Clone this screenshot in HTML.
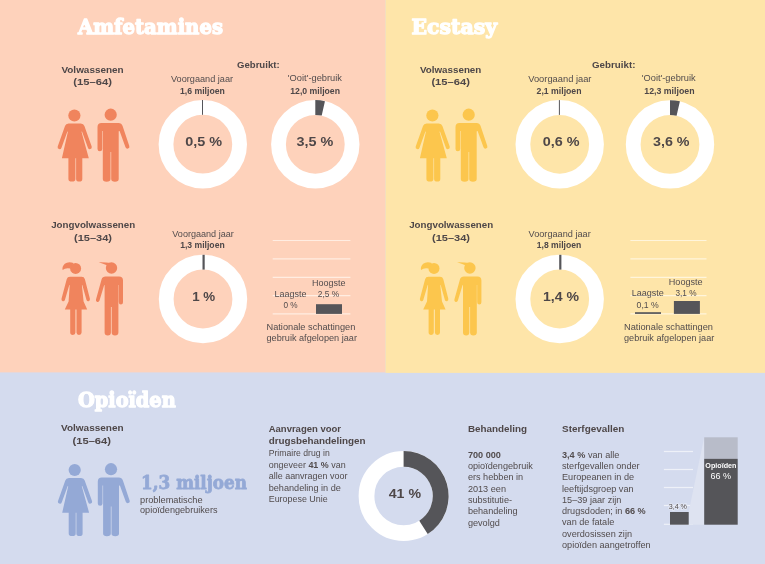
<!DOCTYPE html>
<html lang="nl"><head><meta charset="utf-8"><title>Amfetamines, Ecstasy, Opioïden</title>
<style>
html,body{margin:0;padding:0;background:#D4DBEE;}
svg{display:block}
text{font-family:"Liberation Sans",sans-serif;fill:#524c4d;}
.r{font-size:9.15px}
.b{font-size:9.5px;font-weight:bold;fill:#4e4748}
.b.s{font-size:9.2px}
.bb{font-weight:bold}
.big{font-size:13.2px;font-weight:bold;fill:#4e4748}
.title{font-family:"DejaVu Serif",serif;font-weight:bold;font-size:20.6px;fill:#fff;stroke:#fff;stroke-width:1.3px;stroke-linejoin:round}
.num{font-family:"DejaVu Serif",serif;font-weight:bold;font-size:18px;fill:#94A9D6;stroke:#94A9D6;stroke-width:.8px;stroke-linejoin:round}
.grid{stroke:#FFEDE2;stroke-width:1.2}
.gridy{stroke:#FFF5DC;stroke-width:1.2}
.grid2{stroke:#EEF1F8;stroke-width:1.2}
.tiny{font-size:7px}
.tinyw{font-size:8px;fill:#fff;font-weight:bold}
.tinyw2{font-size:8.2px;fill:#fff}
</style></head><body>
<svg width="765" height="564" viewBox="0 0 765 564">
<defs>
<g id="woman">
  <circle cx="74.4" cy="115.5" r="6.1"/>
  <path d="M68.6 123.5 H80.8 Q83.6 123.5 84.4 126 L91.7 146.6 Q92.2 148.6 90.4 149.1 Q88.6 149.6 87.9 147.7 L82 131.5 L81.5 131.7 L88.8 158.2 H82.3 V179 Q82.3 181.6 79.3 181.6 Q76.1 181.6 76.1 179 V158.2 H75.4 V179 Q75.4 181.6 71.9 181.6 Q68.4 181.6 68.4 179 V158.2 H61.9 L67.9 131.7 L67.4 131.5 L61.5 147.7 Q60.8 149.6 59 149.1 Q57.2 148.6 57.7 146.6 L65 126 Q65.8 123.5 68.6 123.5 Z"/>
</g>
<g id="man">
  <circle cx="110.7" cy="114.7" r="6.1"/>
  <path d="M101.5 123 H118.5 Q121.6 123 122.6 126 L129.3 146 Q129.9 148 128 148.6 Q126.2 149.1 125.5 147.3 L119.6 131 L118.7 131.2 V179 Q118.7 181.8 115 181.8 Q111.2 181.8 111.2 179 V152 H110.5 V179 Q110.5 181.8 106.6 181.8 Q102.8 181.8 102.8 179 V131 H102.2 V149 Q102.2 151.2 99.85 151.2 Q97.5 151.2 97.5 149 V127 Q97.5 123 101.5 123 Z"/>
</g>
<g id="girl">
  <circle cx="75.6" cy="268.4" r="5.5"/>
  <path d="M73.5 262.9 Q68 261 64.8 263.8 Q61.8 266.5 62.6 270 Q65.5 267.6 70.4 268.6 Z"/>
  <path d="M70 276.8 H81.6 Q84.2 276.8 84.9 279.2 L89.9 298.8 Q90.3 300.7 88.7 301.2 Q87.1 301.6 86.5 299.9 L82.3 285 L81.9 285.2 L83.6 301.5 L87.2 309.5 H81.6 V332.6 Q81.6 334.9 79 334.9 Q76.5 334.9 76.5 332.6 V309.5 H75.4 V332.6 Q75.4 334.9 72.8 334.9 Q70.2 334.9 70.2 332.6 V309.5 H64.8 L68.6 301.5 L69.7 285.2 L69.3 285 L64.9 299.9 Q64.3 301.6 62.7 301.2 Q61.1 300.7 61.5 298.8 L66.7 279.2 Q67.4 276.8 70 276.8 Z"/>
</g>
<g id="boy">
  <circle cx="111.5" cy="268" r="5.7"/>
  <path d="M98.7 262.2 Q105 262 111 263 L107.5 265.4 Q103 263.4 98.7 262.2 Z"/>
  <path d="M105.5 276.5 H119 Q123 276.5 123 280.5 V302.3 Q123 304.5 120.9 304.5 Q118.8 304.5 118.8 302.3 V285 H118.4 V332.5 Q118.4 335.4 115 335.4 Q111.7 335.4 111.7 332.5 V307 H110.9 V332.5 Q110.9 335.4 107.8 335.4 Q104.6 335.4 104.6 332.5 V285.2 L104.2 285 L99.5 300.6 Q98.9 302.4 97.2 301.9 Q95.5 301.4 96 299.5 L101.6 279.3 Q102.5 276.5 105.5 276.5 Z"/>
</g>
</defs>

<rect x="0" y="0" width="765" height="564" fill="#D4DBEE"/>
<rect x="0" y="0" width="385.5" height="372.4" fill="#FED2BB"/>
<rect x="385.5" y="0" width="379.5" height="372.9" fill="#FEE5A9"/>
<text x="78" y="34" class="title" textLength="145" lengthAdjust="spacingAndGlyphs" >Amfetamines</text>
<text x="61.4" y="73.2" class="b" textLength="62.3" lengthAdjust="spacingAndGlyphs" >Volwassenen</text>
<text x="73.2" y="85" class="b" textLength="38.7" lengthAdjust="spacingAndGlyphs" >(15–64)</text>
<use href="#woman" fill="#F0845D"/><use href="#man" fill="#F0845D"/>
<text x="237" y="67.8" class="b" textLength="42.6" lengthAdjust="spacingAndGlyphs" >Gebruikt:</text>
<text x="171" y="81.8" class="r" textLength="62.1" lengthAdjust="spacingAndGlyphs" >Voorgaand jaar</text>
<text x="180" y="93.5" class="b s" textLength="44.8" lengthAdjust="spacingAndGlyphs" >1,6 miljoen</text>
<circle cx="202.8" cy="144.2" r="36.8" fill="none" stroke="#fff" stroke-width="14.800000000000004"/><line x1="202.5" y1="99.99999999999999" x2="202.5" y2="114.79999999999998" stroke="#555559" stroke-width="1"/>
<text x="185.2" y="146.1" class="big" textLength="36.9" lengthAdjust="spacingAndGlyphs" >0,5 %</text>
<text x="287.8" y="81.3" class="r" textLength="54.2" lengthAdjust="spacingAndGlyphs" >'Ooit'-gebruik</text>
<text x="290.3" y="93.5" class="b s" textLength="49.7" lengthAdjust="spacingAndGlyphs" >12,0 miljoen</text>
<circle cx="315.3" cy="144.3" r="36.8" fill="none" stroke="#fff" stroke-width="14.800000000000004"/><path d="M315.30 100.10 A44.2 44.2 0 0 1 324.94 101.16 L321.71 115.61 A29.4 29.4 0 0 0 315.30 114.90 Z" fill="#555559"/>
<text x="296.4" y="146.1" class="big" textLength="36.8" lengthAdjust="spacingAndGlyphs" >3,5 %</text>
<text x="51.2" y="228" class="b" textLength="84.0" lengthAdjust="spacingAndGlyphs" >Jongvolwassenen</text>
<text x="74" y="241" class="b" textLength="38" lengthAdjust="spacingAndGlyphs" >(15–34)</text>
<use href="#girl" fill="#F0845D"/><use href="#boy" fill="#F0845D"/>
<text x="172.3" y="236.8" class="r" textLength="61.5" lengthAdjust="spacingAndGlyphs" >Voorgaand jaar</text>
<text x="180.2" y="248" class="b s" textLength="44.5" lengthAdjust="spacingAndGlyphs" >1,3 miljoen</text>
<circle cx="203" cy="299" r="36.8" fill="none" stroke="#fff" stroke-width="14.800000000000004"/><line x1="203.6" y1="254.8" x2="203.6" y2="269.6" stroke="#555559" stroke-width="2.2"/>
<text x="192.2" y="301.4" class="big" textLength="23.0" lengthAdjust="spacingAndGlyphs" >1 %</text>
<line x1="272.7" y1="240.5" x2="350.4" y2="240.5" class="grid"/>
<line x1="272.7" y1="258.9" x2="350.4" y2="258.9" class="grid"/>
<line x1="272.7" y1="277.3" x2="350.4" y2="277.3" class="grid"/>
<line x1="272.7" y1="295.6" x2="350.4" y2="295.6" class="grid"/>
<line x1="272.7" y1="313.9" x2="350.4" y2="313.9" class="grid"/>
<rect x="316" y="304.2" width="26" height="9.7" fill="#555559"/>
<text x="312" y="286" class="r" textLength="33.5" lengthAdjust="spacingAndGlyphs" >Hoogste</text>
<text x="317.8" y="297" class="r" textLength="21.5" lengthAdjust="spacingAndGlyphs" >2,5 %</text>
<text x="274.5" y="297" class="r" textLength="32.0" lengthAdjust="spacingAndGlyphs" >Laagste</text>
<text x="283.4" y="307.5" class="r" textLength="14.2" lengthAdjust="spacingAndGlyphs" >0 %</text>
<text x="266.5" y="330" class="r" textLength="88.8" lengthAdjust="spacingAndGlyphs" >Nationale schattingen</text>
<text x="266.5" y="340.8" class="r" textLength="90.5" lengthAdjust="spacingAndGlyphs" >gebruik afgelopen jaar</text>
<text x="411.5" y="33.7" class="title" textLength="85.5" lengthAdjust="spacingAndGlyphs" >Ecstasy</text>
<text x="420" y="72.8" class="b" textLength="61.3" lengthAdjust="spacingAndGlyphs" >Volwassenen</text>
<text x="431.4" y="84.7" class="b" textLength="38.5" lengthAdjust="spacingAndGlyphs" >(15–64)</text>
<use href="#woman" x="358" fill="#FCC64D"/><use href="#man" x="358" fill="#FCC64D"/>
<text x="592" y="67.8" class="b" textLength="43.4" lengthAdjust="spacingAndGlyphs" >Gebruikt:</text>
<text x="528.2" y="82.2" class="r" textLength="63.3" lengthAdjust="spacingAndGlyphs" >Voorgaand jaar</text>
<text x="536.6" y="94" class="b s" textLength="44.9" lengthAdjust="spacingAndGlyphs" >2,1 miljoen</text>
<circle cx="559.7" cy="144.3" r="36.8" fill="none" stroke="#fff" stroke-width="14.800000000000004"/><line x1="559.4" y1="100.10000000000001" x2="559.4" y2="114.9" stroke="#555559" stroke-width="1"/>
<text x="542.7" y="146.1" class="big" textLength="36.8" lengthAdjust="spacingAndGlyphs" >0,6 %</text>
<text x="641.8" y="81.2" class="r" textLength="53.9" lengthAdjust="spacingAndGlyphs" >'Ooit'-gebruik</text>
<text x="644.3" y="93.5" class="b s" textLength="50.2" lengthAdjust="spacingAndGlyphs" >12,3 miljoen</text>
<circle cx="670" cy="144.4" r="36.8" fill="none" stroke="#fff" stroke-width="14.800000000000004"/><path d="M670.00 100.20 A44.2 44.2 0 0 1 679.91 101.33 L676.59 115.75 A29.4 29.4 0 0 0 670.00 115.00 Z" fill="#555559"/>
<text x="653" y="146.1" class="big" textLength="36.5" lengthAdjust="spacingAndGlyphs" >3,6 %</text>
<text x="409.2" y="228" class="b" textLength="84.0" lengthAdjust="spacingAndGlyphs" >Jongvolwassenen</text>
<text x="432" y="241" class="b" textLength="38" lengthAdjust="spacingAndGlyphs" >(15–34)</text>
<use href="#girl" x="358.4" fill="#FCC64D"/><use href="#boy" x="358.4" fill="#FCC64D"/>
<text x="528.6" y="236.8" class="r" textLength="62.1" lengthAdjust="spacingAndGlyphs" >Voorgaand jaar</text>
<text x="536.8" y="248" class="b s" textLength="44.4" lengthAdjust="spacingAndGlyphs" >1,8 miljoen</text>
<circle cx="559.7" cy="299" r="36.8" fill="none" stroke="#fff" stroke-width="14.800000000000004"/><line x1="560.3" y1="254.8" x2="560.3" y2="269.6" stroke="#555559" stroke-width="2.2"/>
<text x="543" y="301.4" class="big" textLength="36" lengthAdjust="spacingAndGlyphs" >1,4 %</text>
<line x1="630.4" y1="240.5" x2="706.5" y2="240.5" class="gridy"/>
<line x1="630.4" y1="258.9" x2="706.5" y2="258.9" class="gridy"/>
<line x1="630.4" y1="277.3" x2="706.5" y2="277.3" class="gridy"/>
<line x1="630.4" y1="295.6" x2="706.5" y2="295.6" class="gridy"/>
<line x1="630.4" y1="313.9" x2="706.5" y2="313.9" class="gridy"/>
<rect x="673.9" y="301" width="26" height="12.9" fill="#555559"/>
<rect x="635" y="312.2" width="26" height="1.7" fill="#555559"/>
<text x="668.8" y="285" class="r" textLength="33.9" lengthAdjust="spacingAndGlyphs" >Hoogste</text>
<text x="675.4" y="295.5" class="r" textLength="21.1" lengthAdjust="spacingAndGlyphs" >3,1 %</text>
<text x="631.7" y="296.4" class="r" textLength="32.2" lengthAdjust="spacingAndGlyphs" >Laagste</text>
<text x="636.6" y="307.5" class="r" textLength="22.2" lengthAdjust="spacingAndGlyphs" >0,1 %</text>
<text x="624" y="330" class="r" textLength="89" lengthAdjust="spacingAndGlyphs" >Nationale schattingen</text>
<text x="624" y="340.8" class="r" textLength="90.3" lengthAdjust="spacingAndGlyphs" >gebruik afgelopen jaar</text>
<text x="78" y="407.1" class="title" textLength="97.7" lengthAdjust="spacingAndGlyphs" >Opioïden</text>
<text x="61" y="430.6" class="b" textLength="62.6" lengthAdjust="spacingAndGlyphs" >Volwassenen</text>
<text x="72.5" y="443.8" class="b" textLength="38.5" lengthAdjust="spacingAndGlyphs" >(15–64)</text>
<use href="#woman" x="0.3" y="354.5" fill="#94A9D6"/><use href="#man" x="0.3" y="354.5" fill="#94A9D6"/>
<text x="141" y="488.8" class="num" textLength="106" lengthAdjust="spacingAndGlyphs" >1,3 miljoen</text>
<text x="140" y="502.7" class="r" textLength="62.6" lengthAdjust="spacingAndGlyphs" >problematische</text>
<text x="140" y="513.2" class="r" textLength="77.5" lengthAdjust="spacingAndGlyphs" >opioïdengebruikers</text>
<text x="268.7" y="432" class="b" textLength="72.3" lengthAdjust="spacingAndGlyphs" >Aanvragen voor</text>
<text x="268.7" y="444.3" class="b" textLength="96.9" lengthAdjust="spacingAndGlyphs" >drugsbehandelingen</text>
<text x="268.7" y="456" class="r" textLength="61.0" lengthAdjust="spacingAndGlyphs" >Primaire drug in</text>
<text x="268.7" y="467.6" class="r" textLength="76.9" lengthAdjust="spacingAndGlyphs" >ongeveer <tspan class="bb">41 %</tspan> van</text>
<text x="268.7" y="479.2" class="r" textLength="78.8" lengthAdjust="spacingAndGlyphs" >alle aanvragen voor</text>
<text x="268.7" y="490.6" class="r" textLength="72.2" lengthAdjust="spacingAndGlyphs" >behandeling in de</text>
<text x="268.7" y="502" class="r" textLength="59.0" lengthAdjust="spacingAndGlyphs" >Europese Unie</text>
<circle cx="403.6" cy="496" r="37.1" fill="none" stroke="#fff" stroke-width="15.8"/><path d="M403.60 451.00 A45 45 0 0 1 427.71 533.99 L419.25 520.65 A29.2 29.2 0 0 0 403.60 466.80 Z" fill="#555559"/>
<text x="388.7" y="498.4" class="big" textLength="32.3" lengthAdjust="spacingAndGlyphs" >41 %</text>
<text x="467.9" y="432" class="b" textLength="59.1" lengthAdjust="spacingAndGlyphs" >Behandeling</text>
<text x="467.9" y="457.6" class="r" ><tspan class="bb">700 000</tspan></text>
<text x="467.9" y="469.0" class="r" >opioïdengebruik</text>
<text x="467.9" y="480.3" class="r" >ers hebben in</text>
<text x="467.9" y="491.7" class="r" >2013 een</text>
<text x="467.9" y="503.0" class="r" >substitutie-</text>
<text x="467.9" y="514.4" class="r" >behandeling</text>
<text x="467.9" y="525.7" class="r" >gevolgd</text>
<text x="562" y="432" class="b" textLength="62.4" lengthAdjust="spacingAndGlyphs" >Sterfgevallen</text>
<text x="562" y="457.6" class="r" ><tspan class="bb">3,4 %</tspan> van alle</text>
<text x="562" y="468.9" class="r" >sterfgevallen onder</text>
<text x="562" y="480.2" class="r" >Europeanen in de</text>
<text x="562" y="491.5" class="r" >leeftijdsgroep van</text>
<text x="562" y="502.8" class="r" >15–39 jaar zijn</text>
<text x="562" y="514.1" class="r" >drugsdoden; in <tspan class="bb">66 %</tspan></text>
<text x="562" y="525.4" class="r" >van de fatale</text>
<text x="562" y="536.7" class="r" >overdosissen zijn</text>
<text x="562" y="548.0" class="r" >opioïden aangetroffen</text>
<line x1="663.9" y1="451.5" x2="693" y2="451.5" class="grid2"/>
<line x1="663.9" y1="469.5" x2="693" y2="469.5" class="grid2"/>
<line x1="663.9" y1="487.5" x2="693" y2="487.5" class="grid2"/>
<line x1="663.9" y1="505.5" x2="693" y2="505.5" class="grid2"/>
<line x1="663.9" y1="524.3" x2="693" y2="524.3" class="grid2"/>
<polygon points="688.7,512 704.2,437.3 704.2,524.7 688.7,524.7" fill="#DEE3F1"/>
<rect x="704.2" y="437.3" width="33.5" height="21.5" fill="#B8BCC9"/>
<rect x="704.2" y="458.8" width="33.5" height="65.9" fill="#555559"/>
<rect x="670" y="512" width="18.7" height="12.7" fill="#555559"/>
<text x="668.7" y="508.7" class="tiny" textLength="18.3" lengthAdjust="spacingAndGlyphs" stroke="#E6EAF5" stroke-width="1.5" paint-order="stroke">3,4 %</text>
<text x="705.3" y="467.7" class="tinyw" textLength="31.1" lengthAdjust="spacingAndGlyphs" >Opioïden</text>
<text x="710.4" y="478.8" class="tinyw2" textLength="20.6" lengthAdjust="spacingAndGlyphs" >66 %</text>
</svg>
</body></html>
